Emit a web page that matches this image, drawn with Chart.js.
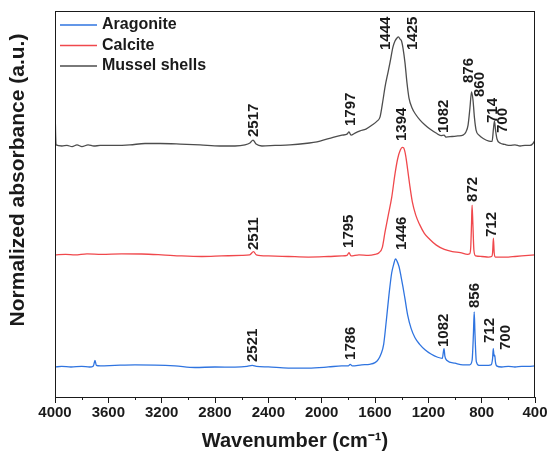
<!DOCTYPE html>
<html>
<head>
<meta charset="utf-8">
<title>FTIR spectra</title>
<script src="https://cdn.jsdelivr.net/npm/chart.js@4.4.1/dist/chart.umd.min.js"></script>
<style>
  html, body { margin: 0; padding: 0; background: #fff; }
  canvas { display: block; }
</style>
</head>
<body>
<canvas id="ftirChart" width="552" height="462"></canvas>
<script>
// FTIR spectra (wavenumber in cm-1, absorbance normalised to the strongest band)
const seriesNames = ["Aragonite", "Calcite", "Mussel shells"];
const seriesColors = ["#2f74e0", "#f0484c", "#4d4d4d"];
// vertical stacking of the three spectra
const stackOffsets = [0.278, 1.306, 2.324];

const xTicks = [4000, 3600, 3200, 2800, 2400, 2000, 1600, 1200, 800, 400];
const xMinorTicks = [3800, 3400, 3000, 2600, 2200, 1800, 1400, 1000, 600];

const aragoniteWn = [4000, 3950, 3880, 3800, 3740, 3712, 3700, 3690, 3660, 3550, 3400, 3250, 3100, 2950, 2800, 2650, 2560, 2521, 2490, 2400, 2250, 2100, 1950, 1850, 1800, 1786, 1770, 1700, 1640, 1600, 1575, 1555, 1535, 1515, 1495, 1475, 1460, 1446, 1435, 1420, 1405, 1390, 1375, 1355, 1330, 1300, 1265, 1225, 1180, 1130, 1095, 1086, 1082, 1076, 1060, 1000, 940, 890, 872, 862, 856, 850, 840, 820, 770, 730, 718, 713, 707, 702, 697, 688, 650, 600, 550, 500, 450, 400];
const aragoniteAbs = [0.0, 0.005, 0.0, 0.005, 0.0, 0.01, 0.06, 0.015, 0.01, 0.015, 0.02, 0.018, 0.01, -0.005, 0.0, -0.002, 0.005, 0.015, 0.005, 0.0, -0.01, -0.01, 0.0, 0.01, 0.01, 0.025, 0.01, 0.02, 0.025, 0.04, 0.07, 0.12, 0.21, 0.43, 0.67, 0.87, 0.95, 1.0, 0.98, 0.93, 0.84, 0.74, 0.63, 0.48, 0.36, 0.27, 0.21, 0.16, 0.12, 0.09, 0.08, 0.15, 0.17, 0.1, 0.06, 0.035, 0.02, 0.02, 0.06, 0.3, 0.51, 0.3, 0.05, 0.015, 0.015, 0.02, 0.08, 0.17, 0.1, 0.11, 0.05, 0.01, 0.0, 0.005, 0.0, 0.005, 0.005, 0.01];

const calciteWn = [4000, 3920, 3850, 3760, 3650, 3500, 3350, 3200, 3050, 2900, 2750, 2600, 2540, 2511, 2490, 2400, 2250, 2100, 1950, 1850, 1810, 1795, 1780, 1720, 1650, 1600, 1570, 1545, 1525, 1500, 1475, 1450, 1430, 1410, 1395, 1385, 1370, 1355, 1340, 1320, 1295, 1265, 1230, 1190, 1140, 1080, 1020, 960, 905, 890, 882, 876, 872, 866, 858, 845, 800, 750, 725, 718, 712, 706, 698, 650, 600, 550, 500, 450, 400];
const calciteAbs = [0.01, 0.015, 0.01, 0.02, 0.015, 0.02, 0.018, 0.01, 0.0, -0.005, 0.0, 0.005, 0.01, 0.04, 0.01, 0.0, -0.005, -0.01, -0.005, 0.0, 0.005, 0.03, 0.0, 0.01, 0.005, 0.015, 0.03, 0.08, 0.22, 0.38, 0.54, 0.76, 0.9, 0.98, 1.005, 1.0, 0.93, 0.8, 0.66, 0.5, 0.38, 0.29, 0.21, 0.155, 0.1, 0.06, 0.04, 0.03, 0.015, 0.02, 0.08, 0.3, 0.47, 0.3, 0.05, 0.0, -0.005, -0.01, -0.005, 0.03, 0.165, 0.03, -0.01, -0.01, -0.01, -0.005, 0.0, 0.005, 0.01];

const musselWn = [4000, 3992, 3948, 3910, 3872, 3835, 3798, 3752, 3708, 3662, 3550, 3438, 3325, 3212, 3062, 2912, 2762, 2650, 2575, 2538, 2515, 2492, 2448, 2350, 2238, 2125, 2012, 1915, 1848, 1810, 1795, 1780, 1750, 1712, 1668, 1622, 1585, 1562, 1540, 1525, 1502, 1488, 1465, 1450, 1435, 1424, 1412, 1401, 1390, 1375, 1360, 1345, 1322, 1292, 1262, 1225, 1188, 1142, 1105, 1082, 1068, 1022, 978, 940, 918, 902, 888, 876, 865, 854, 842, 820, 782, 745, 722, 711, 704, 696, 685, 662, 625, 588, 550, 512, 475, 438, 415, 400];
const musselAbs = [0.36, 0.01, 0.0, 0.005, -0.005, 0.01, -0.005, 0.01, 0.0, 0.005, 0.005, 0.01, 0.023, 0.023, 0.018, 0.01, 0.0, 0.0, 0.01, 0.028, 0.055, 0.018, 0.0, 0.005, 0.01, 0.023, 0.046, 0.08, 0.1, 0.11, 0.13, 0.1, 0.12, 0.14, 0.157, 0.194, 0.23, 0.27, 0.426, 0.546, 0.685, 0.77, 0.917, 0.972, 1.0, 1.01, 0.99, 0.972, 0.907, 0.77, 0.583, 0.444, 0.352, 0.287, 0.24, 0.194, 0.157, 0.12, 0.097, 0.1, 0.083, 0.088, 0.093, 0.1, 0.13, 0.194, 0.352, 0.5, 0.426, 0.26, 0.148, 0.1, 0.065, 0.046, 0.042, 0.167, 0.23, 0.148, 0.065, 0.028, 0.014, 0.005, 0.01, 0.0, 0.005, 0.005, 0.023, 0.055];

// band assignments written above each spectrum
const aragonitePeaks = [2521, 1786, 1446, 1082, 856, 712, 700];
const calcitePeaks = [2511, 1795, 1394, 872, 712];
const musselPeaks = [2517, 1797, 1444, 1425, 1082, 876, 860, 714, 700];

// label placement: [pixel shift along x, y level of the text foot]
const aragoniteLabelPos = [[1, 0.324], [1, 0.343], [6, 1.361], [0, 0.463], [1, 0.824], [-4, 0.5], [11, 0.435]];
const calciteLabelPos = [[0, 1.361], [0, 1.380], [-1, 2.370], [1, 1.806], [-2, 1.481]];
const musselLabelPos = [[1, 2.407], [2, 2.509], [-10, 3.213], [15, 3.213], [0, 2.444], [-3, 2.907], [6, 2.778], [0, 2.537], [8, 2.444]];

const spectra = [
  { wn: aragoniteWn, abs: aragoniteAbs },
  { wn: calciteWn, abs: calciteAbs },
  { wn: musselWn, abs: musselAbs },
];
const peakSets = [
  { peaks: aragonitePeaks, pos: aragoniteLabelPos },
  { peaks: calcitePeaks, pos: calciteLabelPos },
  { peaks: musselPeaks, pos: musselLabelPos },
];

const FONT = "'Liberation Sans', Arial, Helvetica, sans-serif";
const INK = "#1a1a1a";
Chart.defaults.font.family = FONT;

// frame, minor ticks, peak labels, legend and y title
const decorPlugin = {
  id: "decor",
  afterDatasetsDraw(chart) {
    const { ctx, chartArea: a, scales: { x, y } } = chart;
    ctx.save();
    ctx.strokeStyle = INK;
    ctx.lineWidth = 1;
    ctx.strokeRect(a.left + 0.5, a.top + 0.5, a.right - a.left - 1, a.bottom - a.top);

    xMinorTicks.forEach((v) => {
      const px = Math.round(x.getPixelForValue(v)) + 0.5;
      ctx.beginPath();
      ctx.moveTo(px, a.bottom);
      ctx.lineTo(px, a.bottom + 3);
      ctx.stroke();
    });

    ctx.fillStyle = INK;
    ctx.font = `bold 15px ${FONT}`;
    ctx.textAlign = "left";
    ctx.textBaseline = "middle";
    peakSets.forEach((set) => {
      set.peaks.forEach((wn, i) => {
        const [dx, level] = set.pos[i];
        ctx.save();
        ctx.translate(x.getPixelForValue(wn) + dx, y.getPixelForValue(level));
        ctx.rotate(-Math.PI / 2);
        ctx.fillText(String(wn), 0, 0);
        ctx.restore();
      });
    });

    // legend in the top-left corner of the plot
    ctx.font = `bold 16px ${FONT}`;
    seriesNames.forEach((name, i) => {
      const ly = a.top + 14 + i * 20.5;
      ctx.strokeStyle = seriesColors[i];
      ctx.lineWidth = 1.5;
      ctx.beginPath();
      ctx.moveTo(a.left + 5, ly);
      ctx.lineTo(a.left + 42, ly);
      ctx.stroke();
      ctx.fillStyle = INK;
      ctx.fillText(name, a.left + 47, ly);
    });

    ctx.font = `bold 21px ${FONT}`;
    ctx.textAlign = "center";
    ctx.translate(18, 180);
    ctx.rotate(-Math.PI / 2);
    ctx.fillText("Normalized absorbance (a.u.)", 0, 0);
    ctx.restore();
  },
};

new Chart(document.getElementById("ftirChart"), {
  type: "line",
  data: {
    datasets: spectra.map((s, k) => ({
      label: seriesNames[k],
      data: s.wn.map((w, i) => ({ x: w, y: s.abs[i] + stackOffsets[k] })),
      borderColor: seriesColors[k],
      borderWidth: 1.3,
      pointRadius: 0,
      fill: false,
      cubicInterpolationMode: "monotone",
    })),
  },
  options: {
    responsive: false,
    animation: false,
    devicePixelRatio: 1,
    layout: { padding: { top: 11, right: 17, left: 0, bottom: 0 } },
    plugins: {
      legend: { display: false },
      tooltip: { enabled: false },
    },
    scales: {
      x: {
        type: "linear",
        reverse: true,
        min: 400,
        max: 4000,
        afterBuildTicks: (s) => { s.ticks = xTicks.map((v) => ({ value: v })); },
        afterFit: (s) => { s.height = 65; },
        border: { display: false },
        grid: { drawOnChartArea: false, drawTicks: true, tickLength: 6, tickColor: INK, color: INK },
        ticks: {
          color: INK,
          font: { size: 15, weight: "bold" },
          padding: 1,
          maxRotation: 0,
          autoSkip: false,
          callback: (v) => String(v),
        },
        title: {
          display: true,
          text: "Wavenumber (cm⁻¹)",
          color: INK,
          font: { size: 20, weight: "bold" },
          padding: { top: 0, bottom: 9 },
        },
      },
      y: {
        min: 0,
        max: 3.574,
        afterFit: (s) => { s.width = 55; },
        ticks: { display: false },
        grid: { display: false },
        border: { display: false },
      },
    },
  },
  plugins: [decorPlugin],
});
</script>
</body>
</html>
